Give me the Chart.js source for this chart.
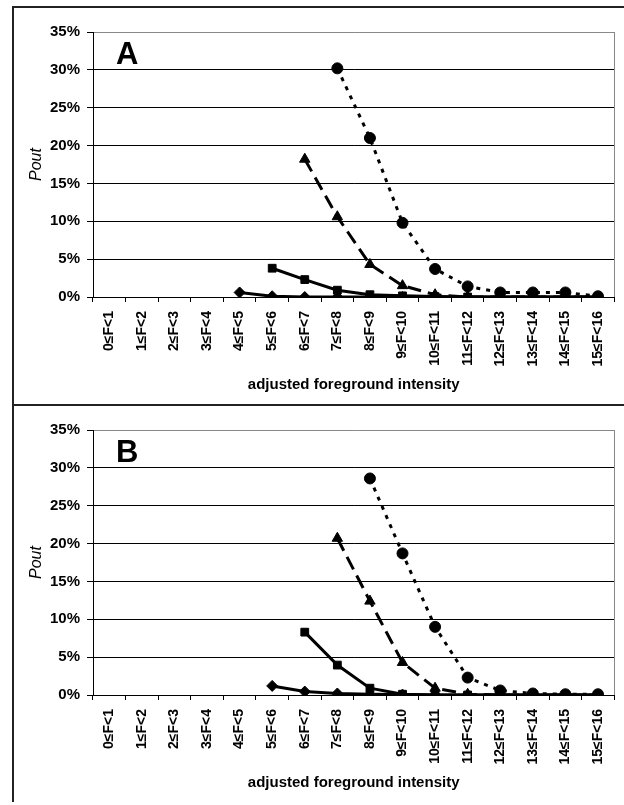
<!DOCTYPE html>
<html>
<head>
<meta charset="utf-8">
<script src="https://cdn.jsdelivr.net/npm/chart.js@4.4.0/dist/chart.umd.min.js"></script>
<style>
    body { margin: 0; background: #fff; width: 624px; height: 805px; overflow: hidden; position: relative; }
    .panel { position: absolute; left: 12px; width: 620px; border-left: 2px solid #222; border-top: 2px solid #222; }
    .panel .box { position: relative; width: 610px; height: 396px; }
    #panelA { top: 6px; }
    #panelB { top: 404px; }
</style>
</head>
<body>
<div class="panel" id="panelA"><div class="box"><canvas id="chartA"></canvas></div></div>
<div class="panel" id="panelB"><div class="box"><canvas id="chartB"></canvas></div></div>

<script>
    var categories = ['0≤F<1', '1≤F<2', '2≤F<3', '3≤F<4', '4≤F<5', '5≤F<6', '6≤F<7', '7≤F<8',
        '8≤F<9', '9≤F<10', '10≤F<11', '11≤F<12', '12≤F<13', '13≤F<14', '14≤F<15', '15≤F<16'];
    var yTicks = [0, 5, 10, 15, 20, 25, 30, 35];

    // panel A (values in %)
    var diamondA = [null, null, null, null, 0.6, 0.1, 0, 0, 0, 0, 0, 0, 0, 0, 0, 0];
    var squareA = [null, null, null, null, null, 3.8, 2.3, 0.9, 0.3, 0.15, 0.05, 0, 0, 0, 0, 0];
    var triangleA = [null, null, null, null, null, null, 18.2, 10.6, 4.3, 1.5, 0.3, 0, 0, 0, 0, 0];
    var circleA = [null, null, null, null, null, null, null, 30.2, 21.0, 9.8, 3.7, 1.4, 0.6, 0.6, 0.6, 0.1];

    // panel B
    var diamondB = [null, null, null, null, null, 1.2, 0.45, 0.2, 0.1, 0.05, 0, 0, 0, 0, 0, 0];
    var squareB = [null, null, null, null, null, null, 8.3, 3.95, 0.9, 0.1, 0, 0, 0, 0, 0, 0];
    var triangleB = [null, null, null, null, null, null, null, 20.7, 12.4, 4.3, 0.9, 0.1, 0, 0, 0, 0];
    var circleB = [null, null, null, null, null, null, null, null, 28.6, 18.7, 9.0, 2.3, 0.6, 0.2, 0.1, 0.1];

    var FONT = '"Liberation Sans", Arial, sans-serif';

    function series(data, style, radius, dash) {
        return {
            data: data,
            borderColor: '#000',
            backgroundColor: '#000',
            borderWidth: 3,
            borderDash: dash,
            pointStyle: style,
            pointRadius: radius,
            pointBorderWidth: 1,
            tension: 0,
            spanGaps: false
        };
    }

    // panel letter + gray frame on the right of the plot
    var panelDeco = {
        id: 'panelDeco',
        afterDraw: function(chart) {
            var ctx = chart.ctx, a = chart.chartArea;
            ctx.save();
            ctx.strokeStyle = '#888';
            ctx.lineWidth = 1;
            ctx.beginPath();
            ctx.moveTo(Math.round(a.right) + 0.5, a.top);
            ctx.lineTo(Math.round(a.right) + 0.5, a.bottom);
            ctx.stroke();
            ctx.fillStyle = '#000';
            ctx.font = 'bold 31px ' + FONT;
            ctx.textBaseline = 'alphabetic';
            ctx.fillText(chart.options.plugins.panelDeco.letter, a.left + 23, a.top + 32);
            ctx.restore();
        }
    };

    function makeChart(id, letter, d, s, t, c) {
        return new Chart(document.getElementById(id), {
            type: 'line',
            data: {
                labels: categories,
                datasets: [
                    series(d, 'rectRot', 5.5, []),
                    series(s, 'rect', 5.5, []),
                    series(t, 'triangle', 6, [14, 7]),
                    series(c, 'circle', 5.5, [4, 6])
                ]
            },
            options: {
                responsive: true,
                maintainAspectRatio: false,
                animation: false,
                layout: { padding: { top: 24, right: 5, left: 0, bottom: 0 } },
                plugins: {
                    legend: { display: false },
                    tooltip: { enabled: false },
                    panelDeco: { letter: letter }
                },
                scales: {
                    x: {
                        offset: true,
                        grid: { offset: true, drawOnChartArea: false, drawTicks: true, tickLength: 5, color: '#000' },
                        border: { color: '#000', width: 1 },
                        ticks: {
                            autoSkip: false, maxRotation: 90, minRotation: 90, padding: 9,
                            color: '#000', font: { family: FONT, size: 14, weight: 'bold' }
                        },
                        title: {
                            display: true, text: 'adjusted foreground intensity', color: '#000',
                            font: { family: FONT, size: 15, weight: 'bold' }, padding: { top: 0, bottom: 10 }
                        },
                        afterFit: function(scale) { scale.height = 107; }
                    },
                    y: {
                        min: 0, max: 35,
                        afterBuildTicks: function(scale) { scale.ticks = yTicks.map(function(v) { return { value: v }; }); },
                        grid: {
                            color: function(ctx) { return ctx.tick && ctx.tick.value === 35 ? '#888' : '#000'; },
                            tickColor: '#000', tickLength: 6, lineWidth: 1
                        },
                        border: { color: '#000', width: 1 },
                        ticks: {
                            padding: 7, color: '#000',
                            font: { family: FONT, size: 15, weight: 'bold' },
                            callback: function(v) { return v + '%'; }
                        },
                        title: {
                            display: true, text: 'Pout', color: '#000',
                            font: { family: FONT, size: 16, style: 'italic' }, padding: { top: 13, bottom: 0 }
                        },
                        afterFit: function(scale) { scale.width = 79; }
                    }
                }
            },
            plugins: [panelDeco]
        });
    }

    makeChart('chartA', 'A', diamondA, squareA, triangleA, circleA);
    makeChart('chartB', 'B', diamondB, squareB, triangleB, circleB);
</script>
</body>
</html>
